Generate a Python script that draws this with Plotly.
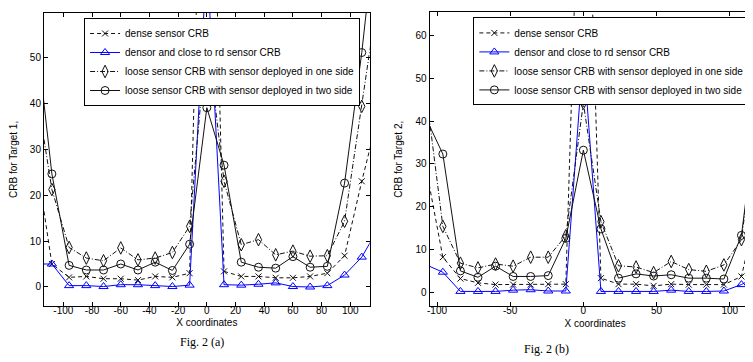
import plotly.graph_objects as go

# ---------------- data ----------------
x_a = [-120, -108, -96, -84, -72, -60, -48, -36, -24, -12, 0,
       12, 24, 36, 48, 60, 72, 84, 96, 108, 120]
dense_a = [30, 5.0, 2.1, 2.3, 1.8, 1.8, 1.5, 2.3, 2.1, 3.0, 150,
           3.4, 2.3, 2.3, 2.0, 2.0, 2.3, 3.0, 6.8, 23.0, 38]
close_a = [5.0, 5.0, 0.3, 0.3, 0.1, 0.5, 0.5, 0.3, 0.1, 0.4, 72,
           0.5, 0.4, 0.6, 0.9, 0.1, 0.0, 0.3, 2.6, 6.5, 13]
one_side_a = [45, 21.2, 8.6, 6.3, 5.7, 8.5, 5.9, 6.3, 7.5, 13.2, 55,
              23.0, 9.2, 10.3, 7.0, 7.8, 6.7, 6.8, 14.3, 39.3, 65]
two_side_a = [58, 24.6, 4.7, 3.7, 3.7, 5.0, 3.7, 5.4, 3.6, 9.3, 39.0,
              26.5, 5.4, 4.3, 4.1, 6.6, 4.3, 4.5, 22.6, 51, 85]

x_b = [-108, -96, -84, -72, -60, -48, -36, -24, -12, 0,
       12, 24, 36, 48, 60, 72, 84, 96, 108, 120]
dense_b = [30, 8.2, 3.2, 2.2, 1.8, 1.8, 1.8, 1.9, 1.9, 135,
           3.3, 1.9, 1.9, 1.5, 1.9, 1.8, 1.8, 1.8, 3.7, 21.4]
close_b = [6.5, 4.7, 0.2, 0.2, 0.2, 0.5, 0.6, 0.3, 0.3, 56,
           0.2, 0.2, 0.2, 0.2, 0.5, 0.2, 0.2, 0.3, 1.8, 4.0]
one_side_b = [48, 15.4, 6.8, 5.7, 6.6, 6.1, 8.2, 8.2, 13.2, 44.2,
              16.5, 6.2, 5.9, 4.6, 7.2, 5.3, 4.9, 6.4, 12.3, 44.5]
two_side_b = [41, 32.3, 5.0, 3.5, 6.1, 3.7, 3.7, 3.9, 12.6, 33.2,
              14.8, 3.3, 4.3, 3.8, 4.1, 3.3, 3.3, 3.1, 13.3, 45.8]

names = ["dense sensor CRB",
         "densor and close to rd sensor CRB",
         "loose sensor CRB with sensor deployed in one side",
         "loose sensor CRB with sensor deployed in two side"]

x_ticks_a = [-100, -80, -60, -40, -20, 0, 20, 40, 60, 80, 100]
x_ticks_b = [-100, -50, 0, 50, 100]
y_ticks_a = [0, 10, 20, 30, 40, 50]
y_ticks_b = [0, 10, 20, 30, 40, 50, 60]

# ---------------- styles ----------------
BLUE = "#0000ff"
INK = "#111111"
styles = [
    dict(color=INK, dash="4px,3px", symbol="x-thin-open", size=6),
    dict(color=BLUE, dash="solid", symbol="triangle-up-open", size=8),
    dict(color=INK, dash="5px,2px,1px,2px", symbol="diamond-tall-open", size=9),
    dict(color=INK, dash="solid", symbol="circle-open", size=8),
]

fig = go.Figure()

for xs, series, xa, ya, lg in [
        (x_a, [dense_a, close_a, one_side_a, two_side_a], "x", "y", "legend"),
        (x_b, [dense_b, close_b, one_side_b, two_side_b], "x2", "y2", "legend2")]:
    for name, ys, st in zip(names, series, styles):
        fig.add_trace(go.Scatter(
            x=xs, y=ys, name=name, mode="lines+markers",
            xaxis=xa, yaxis=ya, legend=lg,
            line=dict(color=st["color"], width=1, dash=st["dash"]),
            marker=dict(symbol=st["symbol"], size=st["size"], color=st["color"],
                        line=dict(width=1, color=st["color"])),
        ))

FONT = "Liberation Sans, Arial, sans-serif"
axis_common = dict(showline=True, linecolor="black", linewidth=1, mirror="ticks",
                   ticks="inside", ticklen=4, tickcolor="black", showgrid=False,
                   zeroline=False, tickfont=dict(family=FONT, size=10, color="black"))


def labels(vals):
    return [str(v) for v in vals]


fig.update_layout(
    width=753, height=362,
    margin=dict(l=0, r=0, t=0, b=0, autoexpand=False),
    paper_bgcolor="white", plot_bgcolor="white",
    font=dict(family=FONT, size=10, color="black"),
    xaxis=dict(domain=[0.0478, 0.4803], range=[-113.5, 113.5], anchor="y",
               tickvals=x_ticks_a, ticktext=labels(x_ticks_a), ticklabelstandoff=-5,
               title=dict(text="X coordinates", standoff=4,
                          font=dict(family=FONT, size=10)), **axis_common),
    yaxis=dict(domain=[0.1776, 0.9862], range=[-4.07, 59.6], anchor="x",
               tickvals=y_ticks_a, ticktext=labels(y_ticks_a),
               title=dict(text="CRB for Target 1,", standoff=11,
                          font=dict(family=FONT, size=10)), **axis_common),
    xaxis2=dict(domain=[0.560, 0.9993], range=[-105, 121], anchor="y2",
                tickvals=x_ticks_b, ticktext=labels(x_ticks_b), ticklabelstandoff=-5,
                title=dict(text="X coordinates", standoff=4,
                           font=dict(family=FONT, size=10)), **axis_common),
    yaxis2=dict(domain=[0.176, 0.988], range=[-3.27, 65.4], anchor="x2",
                tickvals=y_ticks_b, ticktext=labels(y_ticks_b),
                title=dict(text="CRB for Target 2,", standoff=11,
                           font=dict(family=FONT, size=10)), **axis_common),
    legend=dict(x=0.101, y=0.9724, xanchor="left", yanchor="top",
                bgcolor="white", bordercolor="black", borderwidth=1,
                font=dict(family=FONT, size=10, color="black"),
                tracegroupgap=0),
    legend2=dict(x=0.618, y=0.974, xanchor="left", yanchor="top",
                 bgcolor="white", bordercolor="black", borderwidth=1,
                 font=dict(family=FONT, size=10, color="black"),
                 tracegroupgap=0),
    annotations=[
        dict(text="Fig. 2 (a)", x=0.2258, y=0.0525, xref="paper", yref="paper",
             showarrow=False, font=dict(family="Liberation Serif, Times New Roman, serif",
                                        size=12, color="black")),
        dict(text="Fig. 2 (b)", x=0.7473, y=0.0331, xref="paper", yref="paper",
             showarrow=False, font=dict(family="Liberation Serif, Times New Roman, serif",
                                        size=12, color="black")),
    ],
)

fig.write_html("out.html")
